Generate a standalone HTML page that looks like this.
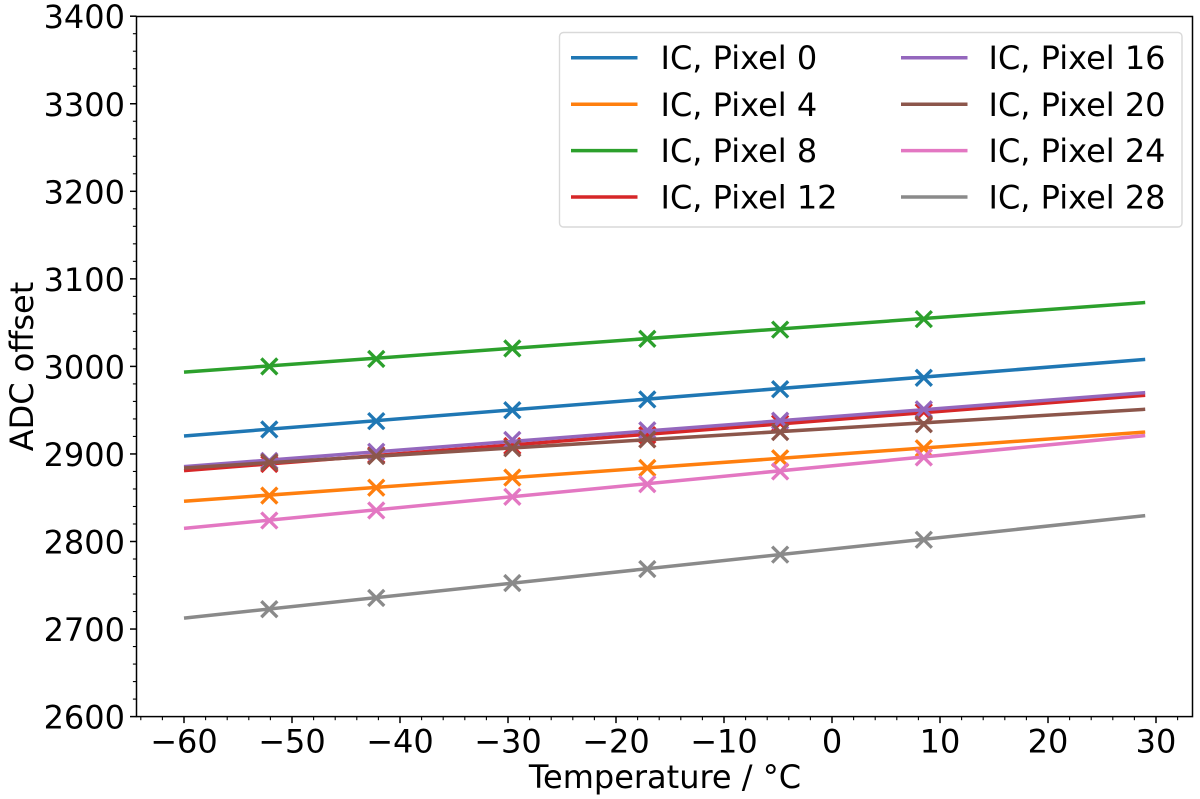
<!DOCTYPE html>
<html>
<head>
<meta charset="utf-8">
<title>ADC offset vs temperature</title>
<style>
html,body{margin:0;padding:0;background:#fff;}
svg{display:block;}
text{font-family:"DejaVu Sans","Liberation Sans",sans-serif;fill:#000;font-size:32px;}
</style>
</head>
<body>
<svg id="chart" xmlns="http://www.w3.org/2000/svg" width="1200" height="799" viewBox="0 0 1200 799"></svg>
<script>
// Chart data
const seriesNames = ["IC, Pixel 0","IC, Pixel 4","IC, Pixel 8","IC, Pixel 12","IC, Pixel 16","IC, Pixel 20","IC, Pixel 24","IC, Pixel 28"];
const seriesColors = ["#1f77b4","#ff7f0e","#2ca02c","#d62728","#9467bd","#8c564b","#e377c2","#8a8a8a"];
const measuredTemps = [-52.1,-42.2,-29.6,-17.1,-4.8,8.5];
const fitTemps = [-60,29];
const measured0 = [2928,2937.5,2950,2962.3,2974,2987];
const measured4 = [2852.5,2861.5,2873,2884,2895,2906.5];
const measured8 = [3000,3008.5,3020.5,3031.5,3042,3054];
const measured12 = [2888.5,2898.7,2909,2921.5,2935,2948];
const measured16 = [2892,2902.5,2916,2927,2938,2951];
const measured20 = [2890.5,2897.5,2906.5,2916.6,2925,2934];
const measured24 = [2824,2835.5,2851,2865.5,2880,2896];
const measured28 = [2722.7,2735.5,2752.5,2768.5,2785,2802];
const fit0 = [2920.5,3008];
const fit4 = [2846,2925];
const fit8 = [2993.5,3073];
const fit12 = [2881,2967];
const fit16 = [2885.5,2970];
const fit20 = [2884,2951];
const fit24 = [2815,2921];
const fit28 = [2712.5,2829.5];
const xTickValues = [-60,-50,-40,-30,-20,-10,0,10,20,30];
const xMinorTickValues = [-64,-62,-58,-56,-54,-52,-48,-46,-44,-42,-38,-36,-34,-32,-28,-26,-24,-22,-18,-16,-14,-12,-8,-6,-4,-2,2,4,6,8,12,14,16,18,22,24,26,28,32];
const yTickValues = [2600,2700,2800,2900,3000,3100,3200,3300,3400];
const yMinorTickValues = [2620,2640,2660,2680,2720,2740,2760,2780,2820,2840,2860,2880,2920,2940,2960,2980,3020,3040,3060,3080,3120,3140,3160,3180,3220,3240,3260,3280,3320,3340,3360,3380];
const measuredAll = [measured0,measured4,measured8,measured12,measured16,measured20,measured24,measured28];
const fitAll = [fit0,fit4,fit8,fit12,fit16,fit20,fit24,fit28];

// Axis functions
const SVGNS = "http://www.w3.org/2000/svg";
const svg = document.getElementById("chart");
function xScale(v){ return 832 + v * 10.8; }
function yScale(v){ return 716.6 - (v - 2600) * 0.8755; }
function make(tag, attrs, parent){
  const el = document.createElementNS(SVGNS, tag);
  for (const k in attrs) el.setAttribute(k, attrs[k]);
  (parent || svg).appendChild(el);
  return el;
}
function formatTick(v){ return v < 0 ? "\u2212" + Math.abs(v) : String(v); }

const plotLeft = 136.5, plotRight = 1192.5, plotTop = 16.5, plotBottom = 716.6;

// Series
seriesNames.forEach(function(name, s){
  const color = seriesColors[s];
  const group = make("g", {});
  
  
  const line = make("line", {
    x1: xScale(fitTemps[0]), y1: yScale(fitAll[s][0]),
    x2: xScale(fitTemps[1]), y2: yScale(fitAll[s][1]),
    stroke: color, "stroke-width": 3.5
  }, group);
  
  
  measuredTemps.forEach(function(t, i){
    const cx = xScale(t), cy = yScale(measuredAll[s][i]), r = 8;
    const marker = make("path", {
      d: "M" + (cx - r) + " " + (cy - r) + "L" + (cx + r) + " " + (cy + r) +
         "M" + (cx - r) + " " + (cy + r) + "L" + (cx + r) + " " + (cy - r),
      stroke: color, "stroke-width": 3.3, fill: "none"
    }, group);
    
    
  });
});

// Ticks
xTickValues.forEach(function(v){
  const tick = make("line", {x1:xScale(v), x2:xScale(v), y1:plotBottom, y2:plotBottom+6.5, stroke:"#000", "stroke-width":1.5});
  
  
  const label = make("text", {x:xScale(v), y:752.5, "text-anchor":"middle"});
  label.textContent = formatTick(v);
  
  
});
xMinorTickValues.forEach(function(v){
  const tick = make("line", {x1:xScale(v), x2:xScale(v), y1:plotBottom, y2:plotBottom+3.6, stroke:"#000", "stroke-width":1.1});
  
  
});
yTickValues.forEach(function(v){
  const tick = make("line", {x1:plotLeft-6.5, x2:plotLeft, y1:yScale(v), y2:yScale(v), stroke:"#000", "stroke-width":1.5});
  
  
  const label = make("text", {x:125, y:yScale(v)+12, "text-anchor":"end"});
  label.textContent = formatTick(v);
  
  
});
yMinorTickValues.forEach(function(v){
  const tick = make("line", {x1:plotLeft-3.6, x2:plotLeft, y1:yScale(v), y2:yScale(v), stroke:"#000", "stroke-width":1.1});
  
  
});

// Plot frame
const frame = make("rect", {x:plotLeft, y:plotTop, width:plotRight-plotLeft, height:plotBottom-plotTop, fill:"none", stroke:"#000", "stroke-width":1.5});



// Axis titles
const xTitle = make("text", {x:665, y:788, "text-anchor":"middle"});
xTitle.textContent = "Temperature / \u00B0C";


const yTitle = make("text", {x:0, y:0, "text-anchor":"middle", transform:"translate(33 366.5) rotate(-90)"});
yTitle.textContent = "ADC offset";



// Legend
const legend = make("g", {});


const legendBox = make("rect", {x:559.5, y:32.5, width:622.5, height:194.5, rx:4, ry:4, fill:"#fff", "fill-opacity":0.8, stroke:"#d9d9d9", "stroke-width":1.4}, legend);


const legendRows = [57.7,104.3,150.6,197];
seriesNames.forEach(function(name, s){
  const col = s < 4 ? 0 : 1;
  const rowY = legendRows[s % 4];
  const handleX = col === 0 ? 571 : 901;
  const textX = col === 0 ? 660.5 : 988.5;
  const entry = make("g", {}, legend);
  
  
  const handle = make("line", {x1:handleX, x2:handleX+66.5, y1:rowY, y2:rowY, stroke:seriesColors[s], "stroke-width":3.5}, entry);
  
  
  const label = make("text", {x:textX, y:rowY+11.5}, entry);
  label.textContent = name;
  
  
});
</script>
</body>
</html>
